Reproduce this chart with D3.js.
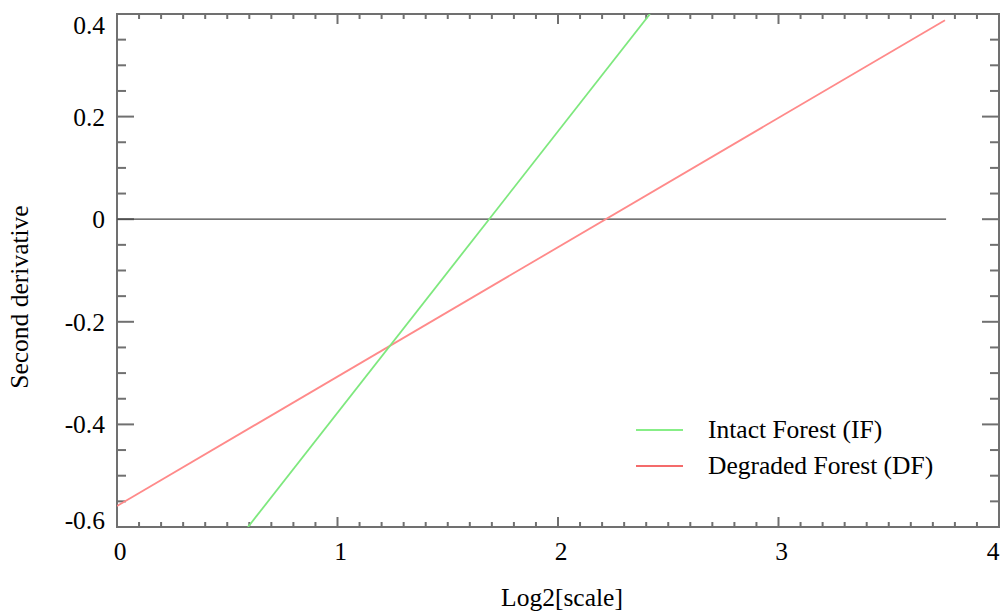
<!DOCTYPE html>
<html>
<head>
<meta charset="utf-8">
<script src="https://cdn.jsdelivr.net/npm/d3@7"></script>
<style>
  html, body { margin: 0; padding: 0; background: #fff; }
  svg text { font-family: "Liberation Serif", "Times New Roman", serif; fill: #000; }
</style>
</head>
<body>
<svg id="chart" width="1008" height="614"></svg>
<script>
// Second derivative versus log2 of scale, fitted lines for two forest types
const seriesNames = ["Intact Forest (IF)", "Degraded Forest (DF)"];
const seriesColors = ["#7ee87e", "#ff8a8a"];
const legendColors = ["#5fe85f", "#f03a3a"];
const intactX = [0.594, 2.417];
const intactY = [-0.6, 0.4];
const degradedX = [0, 3.755];
const degradedY = [-0.559, 0.388];
const zeroX = [0, 3.76];
const zeroY = [0, 0];
const xTickValues = [0, 1, 2, 3, 4];
const yTickValues = [-0.6, -0.4, -0.2, 0, 0.2, 0.4];
const yTickLabels = ["-0.6", "-0.4", "-0.2", "0", "0.2", "0.4"];

const svg = d3.select("#chart");
const margin = { left: 117, top: 14, right: 9, bottom: 87 };
const W = 1008, H = 614;
const x = d3.scaleLinear().domain([0, 4]).range([margin.left, W - margin.right]);
const y = d3.scaleLinear().domain([-0.6, 0.4]).range([H - margin.bottom, margin.top]);
const x0 = x.range()[0], x1 = x.range()[1], y0 = y.range()[0], y1 = y.range()[1];

svg.append("defs").append("clipPath").attr("id", "plot")
  .append("rect").attr("x", x0).attr("y", y1).attr("width", x1 - x0).attr("height", y0 - y1);

const axisColor = "#707070";
const fontSize = 25.5;

// minor / major ticks on all four sides
const xMinor = d3.range(0, 41).map(i => i / 10);
const yMinor = d3.range(0, 21).map(i => -0.6 + i * 0.05);
const ticks = svg.append("g").attr("stroke", axisColor).attr("stroke-width", 2);
xMinor.forEach(v => {
  const major = Math.abs(v - Math.round(v)) < 1e-6;
  const len = major ? 10 : 5;
  ticks.append("line").attr("x1", x(v)).attr("x2", x(v)).attr("y1", y0).attr("y2", y0 - len);
  ticks.append("line").attr("x1", x(v)).attr("x2", x(v)).attr("y1", y1).attr("y2", y1 + len);
});
yMinor.forEach(v => {
  const major = yTickValues.some(t => Math.abs(t - v) < 1e-6);
  const len = major ? 17 : 9;
  ticks.append("line").attr("x1", x0).attr("x2", x0 + len).attr("y1", y(v)).attr("y2", y(v));
  ticks.append("line").attr("x1", x1).attr("x2", x1 - len).attr("y1", y(v)).attr("y2", y(v));
});

// frame
svg.append("rect").attr("x", x0).attr("y", y1).attr("width", x1 - x0).attr("height", y0 - y1)
  .attr("fill", "none").attr("stroke", axisColor).attr("stroke-width", 2);

// tick labels
svg.append("g").selectAll("text").data(xTickValues).join("text")
  .attr("x", d => Math.min(x(d) + 3, x1 - 6)).attr("y", y0 + 33)
  .attr("text-anchor", "middle").attr("font-size", fontSize)
  .text(d => String(d));
svg.append("g").selectAll("text").data(yTickValues).join("text")
  .attr("x", x0 - 12)
  .attr("y", d => Math.max(y1 + 11, Math.min(y0 - 7, y(d))))
  .attr("dy", "0.35em")
  .attr("text-anchor", "end").attr("font-size", fontSize)
  .text((d, i) => yTickLabels[i]);

// axis titles
svg.append("text").attr("x", 562).attr("y", 606).attr("text-anchor", "middle")
  .attr("font-size", fontSize).text("Log2[scale]");
svg.append("text").attr("transform", "translate(28,297) rotate(-90)")
  .attr("text-anchor", "middle").attr("font-size", fontSize).text("Second derivative");

// lines
const line = d3.line().x(d => x(d[0])).y(d => y(d[1]));
const plot = svg.append("g").attr("clip-path", "url(#plot)");
plot.append("path").datum(d3.zip(zeroX, zeroY)).attr("d", line)
  .attr("fill", "none").attr("stroke", "#444").attr("stroke-width", 1.3);
plot.append("path").datum(d3.zip(degradedX, degradedY)).attr("d", line)
  .attr("fill", "none").attr("stroke", seriesColors[1]).attr("stroke-width", 1.8);
plot.append("path").datum(d3.zip(intactX, intactY)).attr("d", line)
  .attr("fill", "none").attr("stroke", seriesColors[0]).attr("stroke-width", 1.8);

// legend
const legend = svg.append("g");
seriesNames.forEach((name, i) => {
  const ly = 430 + i * 36;
  legend.append("line").attr("x1", 636).attr("x2", 683).attr("y1", ly).attr("y2", ly)
    .attr("stroke", legendColors[i]).attr("stroke-width", 1.6);
  legend.append("text").attr("x", 708).attr("y", ly).attr("dy", "0.33em")
    .attr("font-size", fontSize).text(name);
});
</script>
</body>
</html>
